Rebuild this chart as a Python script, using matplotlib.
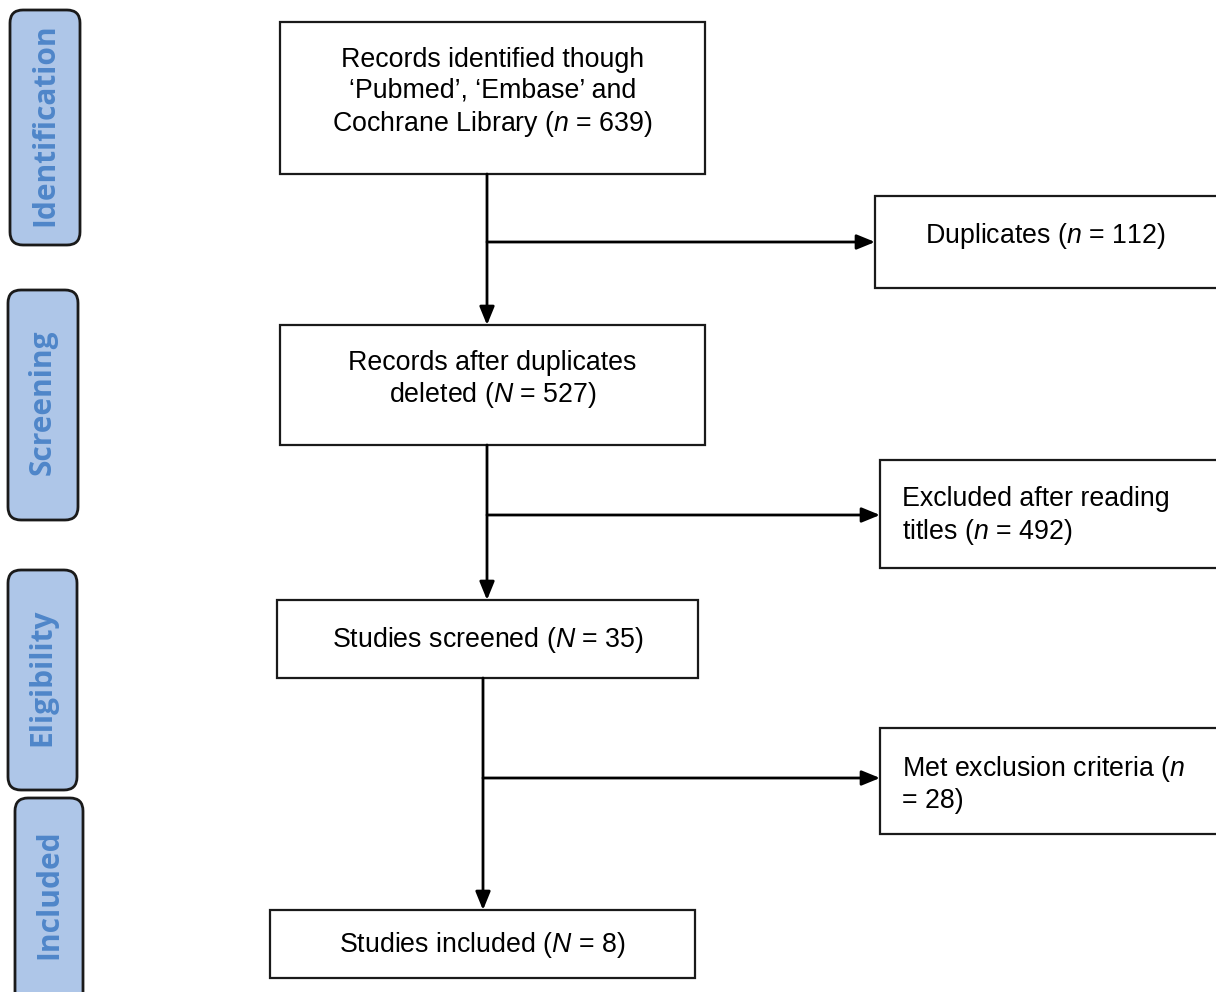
import matplotlib.pyplot as plt
from matplotlib.patches import Rectangle, FancyBboxPatch

plt.rcParams['font.family'] = ['Liberation Sans', 'DejaVu Sans']
plt.rcParams['mathtext.fontset'] = 'custom'
plt.rcParams['mathtext.rm'] = 'Liberation Sans'
plt.rcParams['mathtext.it'] = 'Liberation Sans:italic'

# stages on the left
stage_names = ['Identification', 'Screening', 'Eligibility', 'Included']
stage_boxes = [(10, 10, 70, 235), (8, 290, 70, 230), (8, 570, 69, 220), (15, 798, 68, 210)]

# flow boxes: (x, y, w, h)
main_boxes = [(280, 22, 425, 152), (280, 325, 425, 120), (277, 600, 421, 78), (270, 910, 425, 68)]
main_texts = [
    "Records identified though\n\u2018Pubmed\u2019, \u2018Embase\u2019 and\nCochrane Library ($\\mathit{n}$ = 639)",
    "Records after duplicates\ndeleted ($\\mathit{N}$ = 527)",
    "Studies screened ($\\mathit{N}$ = 35)",
    "Studies included ($\\mathit{N}$ = 8)",
]
side_boxes = [(875, 196, 345, 92), (880, 460, 340, 108), (880, 728, 340, 106)]
side_texts = [
    "Duplicates ($\\mathit{n}$ = 112)",
    "Excluded after reading\ntitles ($\\mathit{n}$ = 492)",
    "Met exclusion criteria ($\\mathit{n}$\n= 28)",
]
spine_x = [487, 487, 483]
branch_y = [242, 515, 778]

FS = 19.3
LS = 1.22

fig = plt.figure(figsize=(12.16, 9.92), dpi=100)
ax = fig.add_axes([0, 0, 1, 1])
ax.set_xlim(0, 1216)
ax.set_ylim(992, 0)
ax.axis('off')

for name, (x, y, w, h) in zip(stage_names, stage_boxes):
    ax.add_patch(FancyBboxPatch((x, y), w, h, boxstyle='round,pad=0,rounding_size=13',
                                facecolor='#aec6e8', edgecolor='#1a1a1a', lw=2, clip_on=False))
    ax.text(x + w / 2, y + h / 2 - (9 if name == 'Included' else 3), name, rotation=90,
            ha='center', va='center', fontsize=21.5, fontweight='bold', color='#4f86c9',
            family=['Open Sans', 'DejaVu Sans'])

for (x, y, w, h), txt in zip(main_boxes, main_texts):
    ax.add_patch(Rectangle((x, y), w, h, facecolor='white', edgecolor='#1a1a1a', lw=1.6))
    ty = y + h / 2 + (-5 if h > 100 else 1)
    ax.text(x + w / 2, ty, txt, ha='center', va='center', fontsize=FS, linespacing=LS)

for i, ((x, y, w, h), txt) in enumerate(zip(side_boxes, side_texts)):
    ax.add_patch(Rectangle((x, y), w, h, facecolor='white', edgecolor='#1a1a1a', lw=1.6, clip_on=False))
    if i == 0:
        ax.text(1045, y + h / 2 - 6, txt, ha='center', va='center', fontsize=FS)
    else:
        ax.text(902, y + 26, txt, ha='left', va='top', fontsize=FS, linespacing=LS)

arrow_kw = dict(arrowstyle='-|>,head_length=1.1,head_width=0.45', color='black', lw=2,
                shrinkA=0, shrinkB=0)
for i in range(3):
    top = main_boxes[i][1] + main_boxes[i][3]
    bottom = main_boxes[i + 1][1]
    ax.annotate('', xy=(spine_x[i], bottom), xytext=(spine_x[i], top), arrowprops=arrow_kw)
    ax.annotate('', xy=(side_boxes[i][0], branch_y[i]), xytext=(spine_x[i], branch_y[i]),
                arrowprops=arrow_kw)

fig.savefig('out.png', dpi=100)
